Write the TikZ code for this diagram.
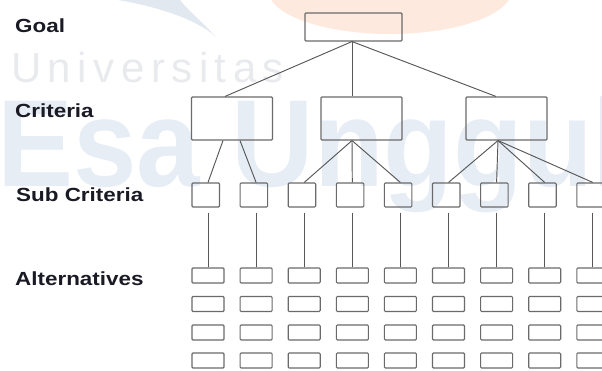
\documentclass[tikz,border=0pt]{standalone}
\usepackage{fontspec}
\setmainfont{Liberation Sans}
\usetikzlibrary{calc}
\definecolor{boxc}{HTML}{6A6A6A}
\definecolor{linec}{HTML}{585858}
\definecolor{txt}{HTML}{1A1A24}
\definecolor{wmblue}{HTML}{E7EDF5}
\definecolor{wmgray}{HTML}{E8EAED}
\definecolor{wmswoosh}{HTML}{E2E8EF}
\definecolor{wmorange}{HTML}{FDE9DE}
\begin{document}
\begin{tikzpicture}[x=1pt,y=-1pt,
  box/.style={draw=boxc,line width=1.1pt,rounded corners=1pt,inner sep=0pt},
  conn/.style={draw=linec,line width=0.95pt},
  lbl/.style={anchor=base west,inner sep=0pt,text=txt,font=\bfseries\fontsize{19}{20}\selectfont}]
\useasboundingbox (0,0) rectangle (602,370);
\clip (0,0) rectangle (602,370);
% watermark
\fill[wmorange] (390,-10) ellipse [x radius=122, y radius=44];
\fill[wmswoosh] (118,0) .. controls (165,8) and (200,22) .. (216,37) .. controls (198,18) and (184,6) .. (180,0) -- cycle;
\node[anchor=base west,inner sep=0pt,text=wmgray,font=\fontsize{42}{42}\selectfont] (wmu) at (11,82)
  {U\kern6.5pt n\kern6.5pt i\kern6.5pt v\kern6.5pt e\kern6.5pt r\kern6.5pt s\kern6.5pt i\kern6.5pt t\kern6.5pt a\kern6.5pt s};
\node[anchor=base west,inner sep=0pt,text=wmblue,font=\bfseries\fontsize{124}{124}\selectfont] (wme) at (-3,186)
  {\scalebox{0.92}[1]{Esa Unggul}};
% labels
\node[lbl] (lgoal) at (15,32) {\scalebox{1.18}[1]{Goal}};
\node[lbl] (lcrit) at (15,117) {\scalebox{1.18}[1]{Criteria}};
\node[lbl] (lsub) at (16,201.5) {\scalebox{1.18}[1]{Sub Criteria}};
\node[lbl] (lalt) at (15,285) {\scalebox{1.18}[1]{Alternatives}};
% boxes
\node[box,minimum width=97pt,minimum height=28pt] (goal) at (353.5,27) {};
\node[box,minimum width=81pt,minimum height=43pt] (crit1) at (232,118.5) {};
\node[box,minimum width=81pt,minimum height=43pt] (crit2) at (361.5,118.5) {};
\node[box,minimum width=81pt,minimum height=43pt] (crit3) at (506.5,118.5) {};
\foreach \i in {0,...,8}{
  \pgfmathsetmacro\L{192+48.1*\i}
  \node[box,minimum width=27.5pt,minimum height=24pt] (sub\i) at (\L+13.75,195) {};
  \foreach \r/\t in {1/268,2/296.5,3/325,4/353}{
    \node[box,minimum width=32pt,minimum height=15pt] (alt\i-\r) at (\L+16,\t+7.5) {};
  }
  \draw[conn] ($(alt\i-1.north |- sub\i.south)+(0,5)$) -- (alt\i-1.north);
}
% connectors
\draw[conn] ([xshift=-1.5pt]goal.south) -- ([xshift=-7pt]crit1.north);
\draw[conn] ([xshift=-1.5pt]goal.south) -- ([xshift=-9.5pt]crit2.north);
\draw[conn] ([xshift=-1.5pt]goal.south) -- ([xshift=-10.5pt]crit3.north);
\draw[conn] ([xshift=-9pt]crit1.south) -- ([xshift=2.25pt]sub0.north);
\draw[conn] ([xshift=8pt]crit1.south) -- ([xshift=2.25pt]sub1.north);
\foreach \j in {2,3,4}{
  \draw[conn] ([xshift=-9.5pt]crit2.south) -- ([xshift=2.25pt]sub\j.north);
}
\foreach \j in {5,6,7,8}{
  \draw[conn] ([xshift=-8.5pt]crit3.south) -- ([xshift=2.25pt]sub\j.north);
}
\end{tikzpicture}
\end{document}
